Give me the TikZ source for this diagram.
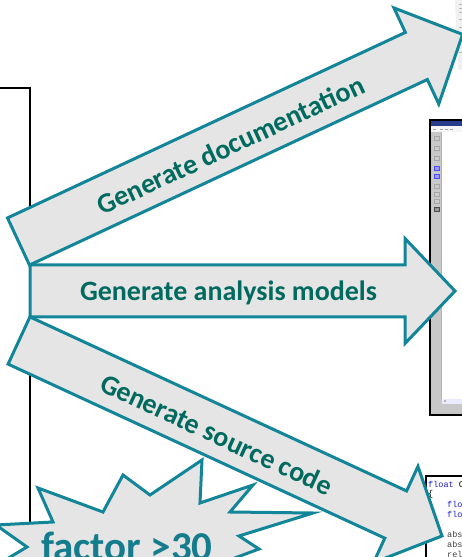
\documentclass[tikz,border=0pt]{standalone}
\usepackage{fontspec}
\setmainfont{Carlito}
\newfontfamily\codefont{Liberation Mono}
\definecolor{arrowline}{RGB}{18,133,152}
\definecolor{arrowfill}{RGB}{229,229,229}
\definecolor{labeltext}{RGB}{0,106,94}
\definecolor{bursttext}{RGB}{20,124,140}
\definecolor{wingray}{RGB}{200,200,200}
\definecolor{titleblue}{RGB}{40,60,140}
\definecolor{codeblue}{RGB}{30,30,200}
\tikzset{
  bigarrow/.style={draw=arrowline, fill=arrowfill, line width=3pt, line join=miter},
  arrowlabel/.style={font=\bfseries\fontsize{28}{30}\selectfont, text=labeltext, anchor=base, inner sep=0pt},
  codeline/.style={font=\codefont\fontsize{8.5}{10}\selectfont, anchor=base west, inner sep=0pt},
  tbicon/.style={fill=gray!60, draw=gray!80, line width=0.3pt},
}
\begin{document}
\begin{tikzpicture}[x=1pt,y=1pt]
\useasboundingbox (0,0) rectangle (462,557);
\clip (0,0) rectangle (462,557);

% outline of the model box on the left
\draw[line width=1.2pt] (-5,469) -- (30,469) -- (30,-5);

% documentation page, top right
\fill[gray!12] (455,557) -- (463,557) -- (463,487) -- (458,487) -- cycle;
\foreach \yy in {553,549,545,538,530,520,505} \draw[gray!55, line width=0.8pt] (459,\yy) -- (462,\yy);

% analysis tool window, middle right
\filldraw[fill=wingray, draw=black, line width=1.5pt] (430,142) rectangle (470,437);
\fill[titleblue] (431,431) rectangle (470,436);
\fill[gray!8] (431,425) rectangle (470,431);
\foreach \xx in {433,440,445,450} \draw[gray!70, line width=0.6pt] (\xx,428) -- (\xx+3,428);
\fill[white] (442,158) rectangle (470,425);
\draw[gray!60, line width=0.5pt] (441.5,158) -- (441.5,425);
\fill[blue!8] (442,153) rectangle (470,158);
\fill[gray!60] (444,155) rectangle (446,156.5);
\foreach \yy/\cc in {419/gray, 409/gray, 399/gray, 389/blue, 381/blue, 371/gray, 363/gray, 356/gray, 348/black}
  \filldraw[fill=\cc!40, draw=\cc!70, line width=0.3pt] (434,\yy-2) rectangle (439,\yy+2);

% source code listing, bottom right
\filldraw[fill=white, draw=black, line width=1.5pt] (426,-5) rectangle (470,81);
\node[codeline, text=codeblue] (c1) at (428,69) {float \textcolor{black}{C}};
\node[codeline] (c2) at (428,60) {\{};
\node[codeline, text=codeblue] (c3) at (447,49.5) {flo};
\node[codeline, text=codeblue] (c4) at (447,39.5) {flo};
\node[codeline, text=black!75] (c5) at (447,19.5) {abs};
\node[codeline, text=black!75] (c6) at (447,9.5) {abs};
\node[codeline, text=black!75] (c7) at (447,-0.5) {rel};

% generation arrows
\begin{scope}[shift={(18.5,315.5)}, rotate=25]
  \draw[bigarrow] (0,-26) -- (439,-26) -- (439,-53) -- (490,0) -- (439,53) -- (439,26) -- (0,26) -- cycle;
  \node[arrowlabel, rotate=25] (doclabel) at (233,-12) {Generate documentation};
\end{scope}
\begin{scope}[shift={(30,266)}]
  \draw[bigarrow] (0,-26) -- (375,-26) -- (375,-52.5) -- (425,0) -- (375,52.5) -- (375,26) -- (0,26) -- cycle;
  \node[arrowlabel] (anlabel) at (198.5,-10) {Generate analysis models};
\end{scope}
\begin{scope}[shift={(19,216.5)}, rotate=-24.8]
  \draw[bigarrow] (0,-26) -- (415,-26) -- (415,-53) -- (466,0) -- (415,53) -- (415,26) -- (0,26) -- cycle;
  \node[arrowlabel, rotate=-24.8] (srclabel) at (219,-12) {Generate source code};
\end{scope}

% starburst
\draw[bigarrow] (-4,32) -- (53,35) -- (38,69) -- (103,45) -- (123,82) -- (150,62)
  -- (202,97) -- (200,54) -- (253,72) -- (230,45) -- (313,44) -- (239,21) -- (259,8)
  -- (205,-12) -- (120,-30) -- (-15,-15) -- (27,10) -- cycle;
\node[font=\bfseries\fontsize{41}{44}\selectfont, text=bursttext, anchor=base, inner sep=0pt] (factor) at (127,-3) {factor >30};
\end{tikzpicture}
\end{document}
